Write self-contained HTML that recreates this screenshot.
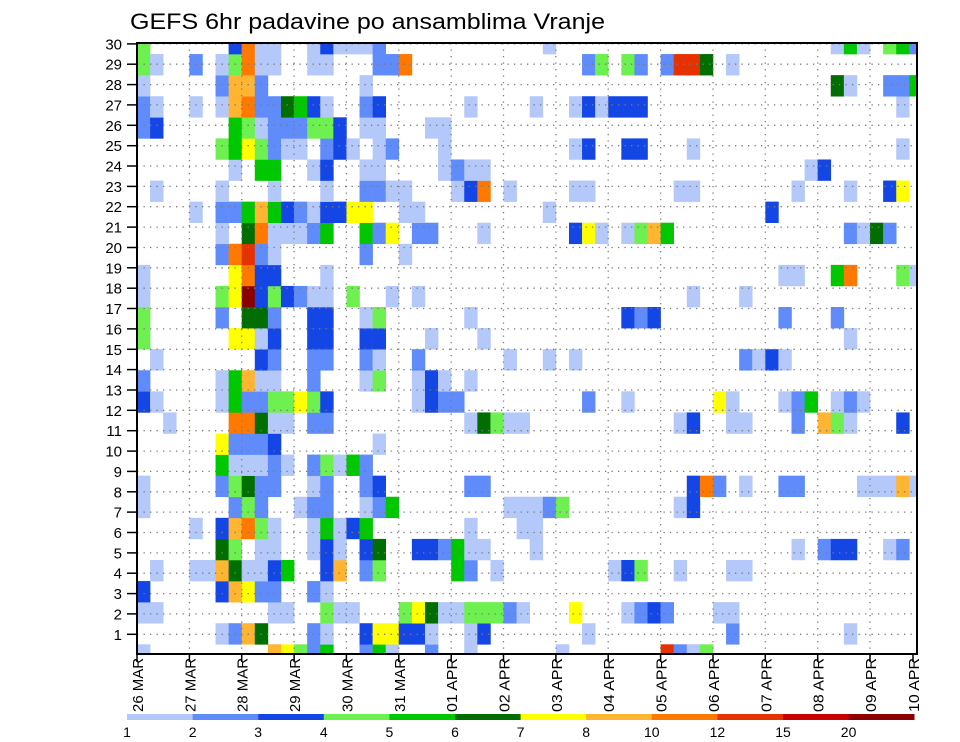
<!DOCTYPE html>
<html><head><meta charset="utf-8"><style>
html,body{margin:0;padding:0;background:#fff;}
svg{display:block;font-family:"Liberation Sans",sans-serif;}
</style></head><body>
<svg id="chart" width="960" height="742" viewBox="0 0 960 742" xmlns="http://www.w3.org/2000/svg">
<rect x="0" y="0" width="960" height="742" fill="#fff"/>
<text x="130" y="29" font-size="22" textLength="475" lengthAdjust="spacingAndGlyphs" fill="#000">GEFS 6hr padavine po ansamblima Vranje</text>
<defs><clipPath id="plotclip"><rect x="137" y="43" width="780" height="611"/></clipPath></defs>
<g id="cells" clip-path="url(#plotclip)"></g>
<g id="grid"></g>
<rect x="137" y="43" width="780" height="611" fill="none" stroke="#000" stroke-width="2"/>
<g id="axes"></g>
<g id="legend"></g>
</svg>
<script>
// Data: class edges (mm), colors, labels
const levelEdges = [1, 2, 3, 4, 5, 6, 7, 8, 10, 12, 15, 20];
const levelColors = ['#b4c8fa','#5f8cfa','#1446e6','#6ef050','#00c800','#006e00','#ffff00','#ffb432','#ff7800','#e63200','#c80000','#8c0000'];
const dayLabels = ['26 MAR','27 MAR','28 MAR','29 MAR','30 MAR','31 MAR','01 APR','02 APR','03 APR','04 APR','05 APR','06 APR','07 APR','08 APR','09 APR','10 APR'];
const memberTicks = [1,2,3,4,5,6,7,8,9,10,11,12,13,14,15,16,17,18,19,20,21,22,23,24,25,26,27,28,29,30];
// precip[r] = list of [6h-step index, value mm] for band r (bottom band first)
const precip = [
 [[0,1.5],[10,9],[11,7.5],[12,4.5],[13,2.5],[14,5.5],[17,2.5],[18,5.5],[19,1.5],[22,2.5],[25,1.5],[32,1.5],[40,13.5],[41,2.5],[42,1.5],[43,4.5]],
 [[6,1.5],[7,2.5],[8,9],[9,6.5],[13,2.5],[14,1.5],[17,3.5],[18,7.5],[19,7.5],[20,3.5],[21,3.5],[22,1.5],[25,1.5],[26,3.5],[34,1.5],[45,2.5],[54,1.5]],
 [[0,1.5],[1,1.5],[10,1.5],[11,1.5],[14,4.5],[15,1.5],[16,1.5],[20,4.5],[21,7.5],[22,6.5],[23,1.5],[24,1.5],[25,4.5],[26,4.5],[27,4.5],[28,2.5],[29,1.5],[33,7.5],[37,1.5],[38,2.5],[39,3.5],[40,2.5],[44,1.5],[45,1.5]],
 [[0,3.5],[6,3.5],[7,9],[8,7.5],[9,2.5],[10,2.5],[13,2.5],[14,1.5]],
 [[1,1.5],[4,1.5],[5,1.5],[6,9],[7,6.5],[8,1.5],[9,1.5],[10,3.5],[11,5.5],[14,3.5],[15,9],[17,2.5],[18,4.5],[24,5.5],[25,2.5],[27,1.5],[36,1.5],[37,3.5],[38,4.5],[41,1.5],[45,1.5],[46,1.5]],
 [[6,6.5],[7,4.5],[9,1.5],[10,1.5],[13,1.5],[14,3.5],[15,1.5],[17,3.5],[18,6.5],[21,3.5],[22,3.5],[23,2.5],[24,5.5],[25,1.5],[26,1.5],[30,1.5],[50,1.5],[52,2.5],[53,3.5],[54,3.5],[57,1.5],[58,2.5]],
 [[4,1.5],[6,3.5],[7,9],[8,11],[9,4.5],[10,1.5],[13,1.5],[14,5.5],[15,1.5],[16,3.5],[17,5.5],[25,1.5],[29,1.5],[30,1.5]],
 [[0,1.5],[7,2.5],[8,4.5],[9,2.5],[12,1.5],[13,2.5],[14,2.5],[17,1.5],[18,2.5],[19,5.5],[28,1.5],[29,1.5],[30,1.5],[31,2.5],[32,4.5],[41,1.5],[42,3.5]],
 [[0,1.5],[6,2.5],[7,4.5],[8,6.5],[9,2.5],[10,2.5],[13,1.5],[14,2.5],[17,2.5],[18,3.5],[25,2.5],[26,2.5],[42,3.5],[43,11],[44,2.5],[46,1.5],[49,2.5],[50,2.5],[55,1.5],[56,1.5],[57,1.5],[58,9],[59,1.5]],
 [[6,5.5],[7,1.5],[8,1.5],[9,1.5],[10,2.5],[11,1.5],[13,2.5],[14,4.5],[15,1.5],[16,5.5],[17,2.5]],
 [[6,7.5],[7,2.5],[8,2.5],[9,2.5],[10,3.5],[18,1.5]],
 [[2,1.5],[7,11],[8,11],[9,6.5],[10,1.5],[11,1.5],[13,2.5],[14,2.5],[25,1.5],[26,6.5],[27,4.5],[28,1.5],[29,1.5],[41,1.5],[42,3.5],[45,1.5],[46,1.5],[50,2.5],[52,9],[53,4.5],[54,1.5],[58,3.5]],
 [[0,3.5],[1,1.5],[6,1.5],[7,5.5],[8,2.5],[9,2.5],[10,4.5],[11,4.5],[12,7.5],[13,4.5],[14,3.5],[21,1.5],[22,3.5],[23,2.5],[24,2.5],[34,2.5],[37,1.5],[44,7.5],[45,1.5],[49,1.5],[50,2.5],[51,5.5],[53,1.5],[54,2.5],[55,1.5]],
 [[0,2.5],[6,1.5],[7,5.5],[8,9],[9,1.5],[10,1.5],[13,2.5],[17,1.5],[18,4.5],[21,1.5],[22,3.5],[23,1.5],[25,1.5]],
 [[1,1.5],[9,3.5],[10,2.5],[13,2.5],[14,2.5],[17,2.5],[18,1.5],[21,2.5],[28,1.5],[31,1.5],[33,1.5],[46,2.5],[47,1.5],[48,3.5],[49,1.5]],
 [[0,4.5],[7,7.5],[8,7.5],[9,1.5],[10,3.5],[13,3.5],[14,3.5],[17,3.5],[18,3.5],[22,1.5],[26,1.5],[54,1.5]],
 [[0,4.5],[6,2.5],[8,6.5],[9,6.5],[10,2.5],[13,3.5],[14,3.5],[17,1.5],[18,4.5],[25,1.5],[37,3.5],[38,2.5],[39,3.5],[49,2.5],[53,2.5]],
 [[0,1.5],[6,4.5],[7,7.5],[8,25],[9,3.5],[10,4.5],[11,3.5],[12,2.5],[13,1.5],[14,1.5],[16,4.5],[19,1.5],[21,1.5],[42,1.5],[46,1.5]],
 [[0,1.5],[7,7.5],[8,11],[9,3.5],[10,3.5],[14,1.5],[49,1.5],[50,1.5],[53,5.5],[54,11],[58,4.5],[59,1.5]],
 [[6,2.5],[7,11],[8,13.5],[9,2.5],[10,1.5],[17,2.5],[20,1.5]],
 [[6,1.5],[8,6.5],[9,11],[10,1.5],[11,1.5],[12,1.5],[13,2.5],[14,5.5],[17,5.5],[18,2.5],[19,7.5],[21,2.5],[22,2.5],[26,1.5],[33,3.5],[34,7.5],[35,1.5],[37,1.5],[38,4.5],[39,9],[40,5.5],[54,2.5],[55,1.5],[56,6.5],[57,2.5]],
 [[4,1.5],[6,2.5],[7,2.5],[8,5.5],[9,9],[10,5.5],[11,3.5],[12,2.5],[13,1.5],[14,3.5],[15,3.5],[16,7.5],[17,7.5],[20,1.5],[21,1.5],[31,1.5],[48,3.5]],
 [[1,1.5],[6,1.5],[10,1.5],[14,1.5],[17,2.5],[18,2.5],[19,1.5],[20,1.5],[24,1.5],[25,3.5],[26,11],[28,1.5],[33,1.5],[34,1.5],[41,1.5],[42,1.5],[50,1.5],[54,1.5],[57,3.5],[58,7.5]],
 [[7,1.5],[9,5.5],[10,5.5],[13,1.5],[14,3.5],[17,1.5],[18,1.5],[23,1.5],[24,2.5],[25,1.5],[26,1.5],[51,1.5],[52,3.5]],
 [[6,4.5],[7,5.5],[8,7.5],[9,4.5],[10,2.5],[11,1.5],[12,1.5],[14,2.5],[15,3.5],[16,1.5],[18,1.5],[19,2.5],[23,1.5],[33,1.5],[34,3.5],[37,3.5],[38,3.5],[42,1.5],[58,1.5]],
 [[0,2.5],[1,3.5],[7,5.5],[8,4.5],[9,1.5],[10,2.5],[11,2.5],[12,2.5],[13,4.5],[14,4.5],[15,3.5],[17,1.5],[18,1.5],[22,1.5],[23,1.5]],
 [[0,2.5],[1,1.5],[4,1.5],[6,1.5],[7,9],[8,11],[9,2.5],[10,2.5],[11,6.5],[12,5.5],[13,3.5],[14,1.5],[17,2.5],[18,3.5],[25,1.5],[30,1.5],[33,1.5],[34,3.5],[35,1.5],[36,3.5],[37,3.5],[38,3.5],[58,1.5]],
 [[0,1.5],[6,2.5],[7,9],[8,9],[9,2.5],[17,1.5],[53,6.5],[54,1.5],[57,2.5],[58,2.5],[59,5.5]],
 [[0,4.5],[1,1.5],[4,2.5],[6,1.5],[7,4.5],[8,11],[9,1.5],[10,1.5],[13,1.5],[14,1.5],[18,2.5],[19,2.5],[20,11],[34,2.5],[35,4.5],[37,4.5],[38,2.5],[40,2.5],[41,13.5],[42,13.5],[43,6.5],[45,1.5]],
 [[0,4.5],[7,3.5],[8,11],[9,1.5],[10,1.5],[13,1.5],[14,3.5],[15,1.5],[16,1.5],[17,1.5],[18,2.5],[31,1.5],[53,1.5],[54,5.5],[55,1.5],[57,4.5],[58,5.5],[59,2.5]]
];

const NS = 'http://www.w3.org/2000/svg';
const PX0 = 137, PX1 = 917, PY0 = 43, PY1 = 654;
const CELL_W = 13.09, BAND_H = 21.08, BAND_BASE = 644.3;
function xStep(k){ return PX0 + CELL_W * k; }
function xDay(d){ return PX0 + 4 * CELL_W * d; }
function bandTop(r){ return BAND_BASE - BAND_H * r; } // r = 0 bottom band
function yTick(n){ return 634.3 - 20.36 * (n - 1); }
function colorFor(v){
  let idx = -1;
  for (let i = 0; i < levelEdges.length; i++) if (v >= levelEdges[i]) idx = i;
  return idx < 0 ? null : levelColors[idx];
}
function mk(tag, attrs){
  const el = document.createElementNS(NS, tag);
  for (const a in attrs) el.setAttribute(a, attrs[a]);
  return el;
}

// Cells
const gc = document.getElementById('cells');
precip.forEach((band, r) => {
  band.forEach(([k, v]) => {
    const c = colorFor(v);
    if (!c) return;
    const rect = mk('rect', {x: xStep(k).toFixed(2), y: bandTop(r).toFixed(2), width: (CELL_W + 0.3).toFixed(2), height: (BAND_H + 0.3).toFixed(2), fill: c});
    
    
    gc.appendChild(rect);
  });
});

// Grid
const gg = document.getElementById('grid');
memberTicks.forEach(n => {
  const y = yTick(n);
  const ln = mk('line', {x1: PX0, x2: PX1, y1: y.toFixed(1), y2: y.toFixed(1), stroke: '#7a7a7a', 'stroke-width': 1.3, 'stroke-dasharray': '1.3 5.2'});
  
  
  gg.appendChild(ln);
});
dayLabels.forEach((lab, d) => {
  if (d === 0) return;
  const x = xDay(d);
  if (x >= PX1) return;
  const ln = mk('line', {x1: x.toFixed(1), x2: x.toFixed(1), y1: PY0, y2: PY1, stroke: '#7a7a7a', 'stroke-width': 1.3, 'stroke-dasharray': '1.3 5.2'});
  
  
  gg.appendChild(ln);
});

// Axes
const ga = document.getElementById('axes');
memberTicks.forEach(n => {
  const y = yTick(n);
  const t = mk('line', {x1: 127, x2: PX0, y1: y.toFixed(1), y2: y.toFixed(1), stroke: '#000', 'stroke-width': 1.5});
  
  
  ga.appendChild(t);
  const tx = mk('text', {x: 122, y: (y + 5.5).toFixed(1), 'font-size': 15, 'text-anchor': 'end', fill: '#000'});
  tx.textContent = String(n);
  
  
  ga.appendChild(tx);
});
dayLabels.forEach((lab, d) => {
  let x = xDay(d);
  if (x > PX1) x = PX1 - 4;
  const t = mk('line', {x1: x.toFixed(1), x2: x.toFixed(1), y1: PY1, y2: PY1 + 8, stroke: '#000', 'stroke-width': 1.5});
  
  
  ga.appendChild(t);
  const ax = x + 6, ay = 658;
  const tx = mk('text', {x: ax.toFixed(1), y: ay, 'font-size': 15, 'text-anchor': 'end', fill: '#000', transform: 'rotate(-90 ' + ax.toFixed(1) + ' ' + ay + ')', textLength: 54, lengthAdjust: 'spacingAndGlyphs'});
  tx.textContent = lab;
  
  
  ga.appendChild(tx);
});

// Legend
const gl = document.getElementById('legend');
const LX0 = 127, LW = 65.6, LY = 714, LH = 6;
levelColors.forEach((c, i) => {
  const r = mk('rect', {x: (LX0 + LW * i).toFixed(1), y: LY, width: (LW + 0.3).toFixed(1), height: LH, fill: c});
  
  
  gl.appendChild(r);
});
levelEdges.forEach((e, i) => {
  const t = mk('text', {x: (LX0 + LW * i).toFixed(1), y: 737, 'font-size': 14, 'text-anchor': 'middle', fill: '#000'});
  t.textContent = String(e);
  
  
  gl.appendChild(t);
});
</script>
</body></html>
